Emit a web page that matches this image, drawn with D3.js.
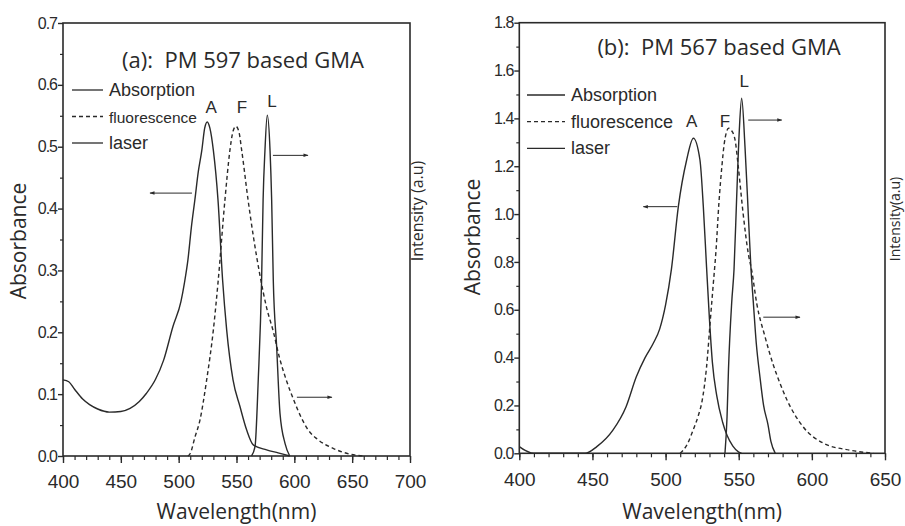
<!DOCTYPE html>
<html><head><meta charset="utf-8">
<script src="https://cdn.jsdelivr.net/npm/d3@7"></script>
<style>
html,body{margin:0;padding:0;background:#fff;}
svg{display:block;}
</style></head><body>
<svg id="chart" width="905" height="526"></svg>
<script>
// ---------- Panel (a): PM 597 based GMA ----------
const aAbsWl  = [400,405,410,417,423,430,440,450,458,466,472,480,487,495,502,505,508,511,514,517,520,522.5,524.7,527,530,534,538,541.5,547,553,558.8,564.5,576,586,596];
const aAbsVal = [0.123,0.12,0.108,0.092,0.083,0.076,0.071,0.072,0.077,0.088,0.101,0.124,0.155,0.209,0.25,0.28,0.317,0.37,0.414,0.46,0.494,0.53,0.540,0.53,0.494,0.414,0.284,0.204,0.123,0.080,0.042,0.018,0.010,0.005,0.0];
const aFluWl  = [508,510,514,518.4,524.2,530,534.2,540,544.3,547,549.5,552,554.5,560,565,570,576,582,587,593,600,606,612,620,634,648,660];
const aFluVal = [0.0,0.004,0.03,0.058,0.123,0.204,0.284,0.414,0.494,0.525,0.533,0.525,0.494,0.414,0.35,0.295,0.24,0.2,0.16,0.123,0.088,0.062,0.042,0.027,0.012,0.003,0.0];
const aLasWl  = [563,566,568.8,571.7,573,574.6,576.6,579,580.4,581.8,584.7,587.6,592,596];
const aLasVal = [0.0,0.015,0.123,0.284,0.414,0.494,0.551,0.494,0.414,0.284,0.177,0.069,0.02,0.0];
const aXTicks = [400,450,500,550,600,650,700];
const aYTicks = [0.0,0.1,0.2,0.3,0.4,0.5,0.6,0.7];
const aTitle = "(a):  PM 597 based GMA";
// peak labels [text, wavelength, value]
const aPeakLabels = [["A",528,0.554],["F",554.7,0.554],["L",580.6,0.564]];
// arrows [fromWl, toWl, value]
const aArrows = [[511.5,475.2,0.425],[581.5,611.8,0.486],[602.2,632.5,0.095]];

// ---------- Panel (b): PM 567 based GMA ----------
const bAbsWl  = [400,404,408,412,445,453,464,473,480,486,491.6,496,500,504,508.7,514.4,519,523.5,525.8,528,530,532,535,539,542,546,550,552];
const bAbsVal = [0.028,0.012,0.002,0.0,0.0,0.028,0.097,0.195,0.32,0.40,0.46,0.52,0.62,0.77,1.03,1.226,1.317,1.226,1.031,0.78,0.56,0.38,0.24,0.13,0.075,0.03,0.005,0.0];
const bFluWl  = [510,515,519,522.5,525,528,530.5,532.5,534.5,536.5,538.5,540,541.5,543,545,547.5,549.7,553,556.5,559,562.3,568,573.6,578.2,583,594,608,626,642];
const bFluVal = [0.0,0.04,0.10,0.16,0.22,0.36,0.55,0.70,0.85,1.05,1.2,1.29,1.34,1.359,1.35,1.31,1.198,1.003,0.836,0.76,0.627,0.487,0.37,0.293,0.223,0.111,0.042,0.013,0.0];
const bLasWl  = [540.6,542,543,545.2,546.8,548.6,550.4,552,554.3,556,558.3,560,562,564.5,567,570,572,575];
const bLasVal = [0.0,0.15,0.35,0.63,0.77,1.07,1.35,1.484,1.28,1.07,0.78,0.63,0.46,0.32,0.2,0.12,0.05,0.0];
const bXTicks = [400,450,500,550,600,650];
const bYTicks = [0.0,0.2,0.4,0.6,0.8,1.0,1.2,1.4,1.6,1.8];
const bTitle = "(b):  PM 567 based GMA";
const bPeakLabels = [["A",517.9,1.364],["F",540.6,1.364],["L",553.8,1.532]];
const bArrows = [[508,484.8,1.031],[556.5,579.4,1.393],[566.8,591.9,0.569]];

const legendNames = ["Absorption","fluorescence","laser"];

const svg = d3.select("#chart");
const INK = "#2a2a2a";
const SANS = "'Liberation Sans', Arial, sans-serif";
const HUM = "'Open Sans', 'Noto Sans', sans-serif";

svg.append("defs").append("marker")
  .attr("id","ah").attr("viewBox","0 0 10 10").attr("refX",9).attr("refY",5)
  .attr("markerWidth",7).attr("markerHeight",5).attr("orient","auto")
  .attr("markerUnits","userSpaceOnUse")
  .append("path").attr("d","M0,1.5L10,5L0,8.5Z").attr("fill",INK);

function panel(o){
  const g = svg.append("g");
  const x = d3.scaleLinear().domain(o.xDom).range(o.xR);
  const y = d3.scaleLinear().domain(o.yDom).range(o.yR);

  // minor x ticks
  g.append("g").attr("transform",`translate(0,${o.yR[0]})`)
    .call(d3.axisBottom(x).tickValues(d3.range(o.xDom[0],o.xDom[1]+0.1,10)).tickSize(4).tickFormat(""))
    .call(a=>a.select(".domain").remove())
    .call(a=>a.selectAll("line").attr("stroke",INK).attr("stroke-width",1.2));
  // major x ticks
  g.append("g").attr("transform",`translate(0,${o.yR[0]})`)
    .call(d3.axisBottom(x).tickValues(o.xTicks).tickSize(7).tickPadding(12).tickFormat(d3.format("d")))
    .call(a=>a.select(".domain").remove())
    .call(a=>a.selectAll("line").attr("stroke",INK).attr("stroke-width",1.4))
    .call(a=>a.selectAll("text").attr("font-family",SANS).attr("font-size",19).attr("fill",INK));
  // minor y ticks
  g.append("g").attr("transform",`translate(${o.xR[0]},0)`)
    .call(d3.axisLeft(y).tickValues(o.yMinor).tickSize(3).tickFormat(""))
    .call(a=>a.select(".domain").remove())
    .call(a=>a.selectAll("line").attr("stroke",INK).attr("stroke-width",1.2));
  // major y ticks
  g.append("g").attr("transform",`translate(${o.xR[0]},0)`)
    .call(d3.axisLeft(y).tickValues(o.yTicks).tickSize(5).tickPadding(1).tickFormat(d3.format(".1f")))
    .call(a=>a.select(".domain").remove())
    .call(a=>a.selectAll("line").attr("stroke",INK).attr("stroke-width",1.4))
    .call(a=>a.selectAll("text").attr("font-family",SANS).attr("font-size",16).attr("letter-spacing",-1).attr("fill",INK));

  // frame
  g.append("rect").attr("x",o.xR[0]).attr("y",o.yR[1])
    .attr("width",o.xR[1]-o.xR[0]).attr("height",o.yR[0]-o.yR[1])
    .attr("fill","none").attr("stroke",INK).attr("stroke-width",1.6);

  const line = d3.line().x(d=>x(d[0])).y(d=>y(d[1])).curve(d3.curveMonotoneX);
  const series = [
    {wl:o.absWl,v:o.absVal,dash:null},
    {wl:o.fluWl,v:o.fluVal,dash:"4,3"},
    {wl:o.lasWl,v:o.lasVal,dash:null}
  ];
  series.forEach(s=>{
    g.append("path").datum(d3.zip(s.wl,s.v)).attr("d",line)
      .attr("fill","none").attr("stroke",INK).attr("stroke-width",1.4)
      .attr("stroke-dasharray",s.dash);
  });

  // peak labels
  o.peaks.forEach(p=>{
    g.append("text").attr("x",x(p[1])).attr("y",y(p[2])).attr("text-anchor","middle")
      .attr("font-family",SANS).attr("font-size",17).attr("fill",INK).text(p[0]);
  });
  // arrows
  o.arrows.forEach(a=>{
    g.append("line").attr("x1",x(a[0])).attr("x2",x(a[1])).attr("y1",y(a[2])).attr("y2",y(a[2]))
      .attr("stroke",INK).attr("stroke-width",1).attr("marker-end","url(#ah)");
  });

  // legend
  legendNames.forEach((n,i)=>{
    const ly = o.legY + i*o.legStep;
    g.append("line").attr("x1",o.legX).attr("x2",o.legX+o.legLen).attr("y1",ly).attr("y2",ly)
      .attr("stroke",INK).attr("stroke-width",1.3).attr("stroke-dasharray",i===1?"4,3":null);
    g.append("text").attr("x",o.legX+o.legLen+6).attr("y",ly+6)
      .attr("font-family",SANS).attr("font-size",i===1?o.fluSize:18).attr("fill",INK).text(n);
  });

  // title
  g.append("text").attr("x",o.titleX).attr("y",o.titleY).attr("text-anchor","middle")
    .attr("font-family",HUM).attr("font-size",22).attr("fill",INK)
    .style("white-space","pre").text(o.title);

  // axis titles
  const xm = (o.xR[0]+o.xR[1])/2;
  g.append("text").attr("x",xm).attr("y",519).attr("text-anchor","middle")
    .attr("font-family",HUM).attr("font-size",21).attr("fill",INK).text("Wavelength(nm)");
  g.append("text").attr("transform",`translate(${o.yLabX},${o.yLabY}) rotate(-90)`).attr("text-anchor","middle")
    .attr("font-family",HUM).attr("font-size",21).attr("fill",INK).text("Absorbance");
  g.append("text").attr("transform",`translate(${o.rLabX},${o.rLabY}) rotate(-90)`).attr("text-anchor","middle")
    .attr("font-family",HUM).attr("font-size",o.rLabSize).attr("fill",INK).text(o.rLab);
}

panel({
  xDom:[400,700], xR:[63,410], yDom:[0,0.7], yR:[456,23],
  xTicks:aXTicks, yTicks:aYTicks, yMinor:d3.range(0.05,0.7,0.1),
  absWl:aAbsWl, absVal:aAbsVal, fluWl:aFluWl, fluVal:aFluVal, lasWl:aLasWl, lasVal:aLasVal,
  peaks:aPeakLabels, arrows:aArrows,
  legX:72, legY:90, legStep:26.5, legLen:31, fluSize:15.5,
  title:aTitle, titleX:243, titleY:68,
  yLabX:26, yLabY:241, rLab:"Intensity (a.u)", rLabX:423, rLabY:211, rLabSize:16
});
panel({
  xDom:[400,650], xR:[519.3,885], yDom:[0,1.8], yR:[453.3,22.7],
  xTicks:bXTicks, yTicks:bYTicks, yMinor:d3.range(0.1,1.8,0.2),
  absWl:bAbsWl, absVal:bAbsVal, fluWl:bFluWl, fluVal:bFluVal, lasWl:bLasWl, lasVal:bLasVal,
  peaks:bPeakLabels, arrows:bArrows,
  legX:527, legY:95, legStep:26.7, legLen:38, fluSize:18,
  title:bTitle, titleX:719, titleY:55,
  yLabX:480, yLabY:237, rLab:"Intensity(a.u)", rLabX:900, rLabY:219, rLabSize:14
});
</script>
</body></html>
